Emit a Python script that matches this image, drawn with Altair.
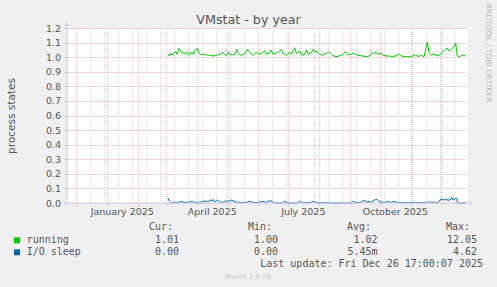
import altair as alt
import pandas as pd

# ---------------- data ----------------
START = pd.Timestamp("2024-11-21 17:00:00")   # left edge of the 400-day window
END = pd.Timestamp("2025-12-26 17:00:00")     # last update

# running: day offset from START, value
run_days = [101.3, 102.3, 103.7, 105, 107, 109, 110.3, 112, 113.7, 115.3, 117, 118.7, 120.3, 122.3,
            124.7, 126.3, 128.3, 130.3, 132, 133.7, 136.3, 139.7, 143, 146.3, 149.7, 153, 155.7, 157,
            159.7, 161.3, 163, 165.7, 168, 169.7, 171.3, 174.3, 177.7, 180.3, 182.7, 186, 189.3, 191,
            194.3, 197.7, 199.3, 202.7, 204.3, 206, 209.3, 212.7, 214.3, 216, 219.3, 222.7, 224.3,
            227.7, 229.3, 232.7, 234.3, 237.7, 239.3, 241, 244.3, 246, 247.7, 249, 252.3, 255.7, 260.7,
            262.3, 265.7, 269, 272.3, 275.7, 277.3, 279, 280.7, 284, 287.3, 290.7, 295.7, 300.7, 304,
            305.7, 307.3, 309, 310.7, 314, 315.7, 319, 322.3, 325.7, 327, 330.3, 332, 334.3, 338.7,
            343.7, 348.7, 351, 353.7, 357, 360.3, 362, 364.3, 367, 370.3, 373.7, 376.3, 378.7, 380.3,
            382, 383.7, 386.3, 388.7, 390.3, 392.7, 395.3, 398.7]
run_vals = [1.020, 1.008, 1.026, 1.013, 1.031, 1.037, 1.020, 1.061, 1.042, 1.026, 1.035, 1.020, 1.031, 1.013,
            1.035, 1.020, 1.049, 1.061, 1.026, 1.020, 1.020, 1.015, 1.013, 1.008, 1.013, 1.020, 1.035, 1.020,
            1.013, 1.035, 1.020, 1.015, 1.020, 1.054, 1.026, 1.013, 1.020, 1.054, 1.031, 1.013, 1.035, 1.020,
            1.026, 1.042, 1.020, 1.031, 1.049, 1.020, 1.026, 1.042, 1.054, 1.026, 1.013, 1.035, 1.020,
            1.065, 1.026, 1.042, 1.013, 1.020, 1.049, 1.020, 1.031, 1.054, 1.035, 1.042, 1.020, 1.013, 1.031,
            1.035, 1.013, 1.003, 1.008, 1.017, 1.031, 1.035, 1.015, 1.020, 1.026, 1.013, 1.008, 1.003, 1.017,
            1.031, 1.026, 1.035, 1.020, 1.026, 1.015, 1.008, 1.008, 1.003, 1.005, 1.013, 1.024, 1.008, 1.003,
            1.003, 1.017, 1.003, 1.015, 1.003, 1.104, 1.031, 1.013, 1.020, 1.008, 1.020, 1.042, 1.054, 1.061,
            1.042, 1.049, 1.065, 1.095, 1.008, 1.003, 1.015, 1.008]

# I/O sleep: day offset from START, value
io_days = [101, 102.5, 104, 108, 111, 114.7, 117, 121, 125.3, 128, 133, 136, 138, 140, 143.7, 145,
           146.3, 148, 150.3, 152.3, 154.7, 157, 159.7, 161.3, 164.7, 167, 169.7, 173, 176, 179, 183.7,
           187, 191, 196, 199, 202.7, 205, 207, 214, 215.5, 217.7, 220, 222, 230, 232.7, 235, 239, 243,
           246, 249, 253, 257, 259.7, 283, 285.7, 288, 291, 294, 297.3, 299, 302, 304, 307.3, 310, 312,
           315, 318, 321, 324, 327, 330, 333, 338, 343, 348, 353, 358, 363, 368, 371, 373, 375, 377, 379,
           381, 383, 384.7, 386, 388, 389.7, 390.5, 399]
io_vals = [0.035, 0.012, 0.003, 0.004, 0.003, 0.011, 0.003, 0.005, 0.011, 0.003, 0.005, 0.008, 0.016, 0.006,
           0.020, 0.014, 0.025, 0.006, 0.020, 0.011, 0.004, 0.006, 0.016, 0.011, 0.020, 0.011, 0.006, 0.004,
           0.003, 0.005, 0.011, 0.003, 0.004, 0.011, 0.004, 0.016, 0.011, 0.0, 0.0, 0.004, 0.011, 0.003, 0.0,
           0.0, 0.011, 0.004, 0.004, 0.003, 0.011, 0.004, 0.003, 0.004, 0.0, 0.0, 0.011, 0.004, 0.003, 0.005,
           0.020, 0.006, 0.011, 0.004, 0.020, 0.025, 0.011, 0.006, 0.004, 0.011, 0.004, 0.011, 0.004, 0.003,
           0.004, 0.003, 0.005, 0.003, 0.004, 0.006, 0.004, 0.003, 0.020, 0.028, 0.020, 0.025, 0.018, 0.022,
           0.039, 0.020, 0.030, 0.032, 0.0, 0.0]

month_starts = ["2024-12-01", "2025-01-01", "2025-02-01", "2025-03-01", "2025-04-01", "2025-05-01",
                "2025-06-01", "2025-07-01", "2025-08-01", "2025-09-01", "2025-10-01", "2025-11-01",
                "2025-12-01"]
minor_grid = ["2024-12-15", "2024-12-29", "2025-01-12", "2025-01-26", "2025-02-09", "2025-02-23",
              "2025-03-09", "2025-03-23", "2025-04-06", "2025-04-20", "2025-05-04", "2025-05-18",
              "2025-06-15", "2025-06-29", "2025-07-13", "2025-07-27", "2025-08-10", "2025-08-24",
              "2025-09-07", "2025-09-21", "2025-10-05", "2025-10-19", "2025-11-02", "2025-11-16",
              "2025-11-30", "2025-12-14"]
label_months = ["2025-01-01", "2025-04-01", "2025-07-01", "2025-10-01"]
label_texts = ["January 2025", "April 2025", "July 2025", "October 2025"]
y_ticks = [0.0, 0.1, 0.2, 0.3, 0.4, 0.5, 0.6, 0.7, 0.8, 0.9, 1.0, 1.1, 1.2]

legend_names = ["running", "I/O sleep"]
legend_colors = ["#00CC00", "#0066B3"]
legend_headers = ["Cur:", "Min:", "Avg:", "Max:"]
cur_vals = ["1.01", "0.00"]
min_vals = ["1.00", "0.00"]
avg_vals = ["1.02", "5.45m"]
max_vals = ["12.05", "4.62"]

TITLE = "VMstat - by year"
Y_TITLE = "process states"
LAST_UPDATE = "Last update: Fri Dec 26 17:00:07 2025"
WATERMARK = "RRDTOOL / TOBI OETIKER"
FOOTER = "Munin 2.0.76"

# ---------------- styling ----------------
W, H = 400, 175
SANS = "DejaVu Sans"
MONO = "DejaVu Sans Mono"
TXT = "#555555"
MGRID = "#EBAFAF"
GRID = "#E2CFCF"
AXIS = "#CFD6F8"

xscale = alt.Scale(domain=[alt.DateTime(year=2024, month=11, date=21, hours=17),
                           alt.DateTime(year=2025, month=12, date=26, hours=17)])
yscale = alt.Scale(domain=[0, 1.2], nice=False, zero=True)


def X(field="date"):
    return alt.X(f"{field}:T", scale=xscale, axis=None)


def to_dates(days):
    return [START + pd.Timedelta(days=d) for d in days]


run_df = pd.DataFrame({"date": to_dates(run_days), "value": run_vals, "series": legend_names[0]})
io_df = pd.DataFrame({"date": to_dates(io_days), "value": io_vals, "series": legend_names[1]})
series_df = pd.concat([run_df, io_df], ignore_index=True)
major_df = pd.DataFrame({"date": pd.to_datetime(month_starts)})
minor_df = pd.DataFrame({"date": pd.to_datetime(minor_grid)})
lab_df = pd.DataFrame({"date": [pd.Timestamp(m) + pd.Timedelta(days=15) for m in label_months],
                       "label": label_texts})
one = pd.DataFrame({"k": [0]})

color_scale = alt.Scale(domain=legend_names, range=legend_colors)

yaxis = alt.Axis(values=y_ticks, format=".1f", grid=True, gridColor=MGRID, gridDash=[1, 1],
                 gridOpacity=1, domain=False, ticks=True, tickColor=MGRID, tickSize=3,
                 labelFont=SANS, labelFontSize=9.5, labelColor=TXT, labelPadding=3.5,
                 title=Y_TITLE, titleFont=SANS, titleFontSize=10.5, titleFontWeight="normal",
                 titleColor=TXT, titleX=-56, titleY=H / 2, titleAlign="center",
                 titleBaseline="middle")

layers = []

layers.append(alt.Chart(minor_df).mark_rule(color=GRID, strokeDash=[1, 1], strokeWidth=1,
                                            xOffset=0.5).encode(
    x=X(), y=alt.value(0), y2=alt.value(H)))
layers.append(alt.Chart(major_df).mark_rule(color=MGRID, strokeDash=[1, 1], strokeWidth=1,
                                            xOffset=0.5).encode(
    x=X(), y=alt.value(0), y2=alt.value(H)))
layers.append(alt.Chart(major_df).mark_rule(color=MGRID, strokeWidth=1, xOffset=0.5).encode(
    x=X(), y=alt.value(H), y2=alt.value(H + 3)))

layers.append(alt.Chart(series_df).mark_line(strokeWidth=1).encode(
    x=X(),
    y=alt.Y("value:Q", scale=yscale, axis=yaxis),
    color=alt.Color("series:N", scale=color_scale, legend=None),
    order=alt.Order("date:T"),
))

# axes lines and arrows (drawn on top, like rrdtool)
layers.append(alt.Chart(one).mark_rule(color=AXIS, strokeWidth=1).encode(
    x=alt.value(-3), x2=alt.value(W + 4), y=alt.value(H)))
layers.append(alt.Chart(one).mark_rule(color=AXIS, strokeWidth=1).encode(
    x=alt.value(0), y=alt.value(-4), y2=alt.value(H + 3)))
layers.append(alt.Chart(one).mark_point(shape="triangle-up", filled=True, size=28, color=AXIS,
                                        opacity=1).encode(x=alt.value(0), y=alt.value(-4.5)))
layers.append(alt.Chart(one).mark_point(shape="triangle-right", filled=True, size=28, color=AXIS,
                                        opacity=1).encode(x=alt.value(W + 4), y=alt.value(H)))

# month labels
layers.append(alt.Chart(lab_df).mark_text(font=SANS, fontSize=9.5, color=TXT, baseline="alphabetic",
                                          align="center").encode(
    x=X(), y=alt.value(H + 12), text="label:N"))


def text_layer(txt, x, y, **kw):
    return alt.Chart(pd.DataFrame({"t": [txt]})).mark_text(**kw).encode(
        x=alt.value(x), y=alt.value(y), text="t:N")


# title
layers.append(text_layer(TITLE, 181.5, -4, font=SANS, fontSize=12.7, color=TXT,
                         align="center", baseline="alphabetic"))
# watermark on the right
layers.append(text_layer(WATERMARK, 421, 25, font=SANS, fontSize=7.7, color="#BBBBBB",
                         align="center", baseline="middle", angle=90))

# legend
header_x = [106, 205, 304, 403]
value_x = [112, 211, 310.5, 410]
for hx, h in zip(header_x, legend_headers):
    layers.append(text_layer(h, hx, 202, font=MONO, fontSize=10, color=TXT, align="right",
                             baseline="alphabetic"))
row_base = [215, 227]
for i, name in enumerate(legend_names):
    yb = row_base[i]
    layers.append(alt.Chart(pd.DataFrame({"n": [name]})).mark_square(
        filled=True, size=36, opacity=1).encode(
        x=alt.value(-50), y=alt.value(yb - 2.7),
        color=alt.Color("n:N", scale=color_scale, legend=None)))
    layers.append(text_layer(name, -40.3, yb, font=MONO, fontSize=10, color=TXT, align="left",
                             baseline="alphabetic"))
    for vx, v in zip(value_x, [cur_vals[i], min_vals[i], avg_vals[i], max_vals[i]]):
        layers.append(text_layer(v, vx, yb, font=MONO, fontSize=10, color=TXT, align="right",
                                 baseline="alphabetic"))

layers.append(text_layer(LAST_UPDATE, 416, 238.7, font=MONO, fontSize=10, color=TXT,
                         align="right", baseline="alphabetic"))
layers.append(text_layer(FOOTER, 181, 251, font=SANS, fontSize=7, color="#C8C8C8",
                         align="center", baseline="alphabetic"))

chart = alt.layer(*layers).properties(
    width=W, height=H,
    padding={"left": 67, "top": 28, "right": 30, "bottom": 84},
    autosize=alt.AutoSizeParams(type="none"),
    background="#F0F0F0",
).configure_view(stroke="transparent", fill="#FFFFFF")

chart.save("out.html", embed_options={"renderer": "svg", "actions": False})
